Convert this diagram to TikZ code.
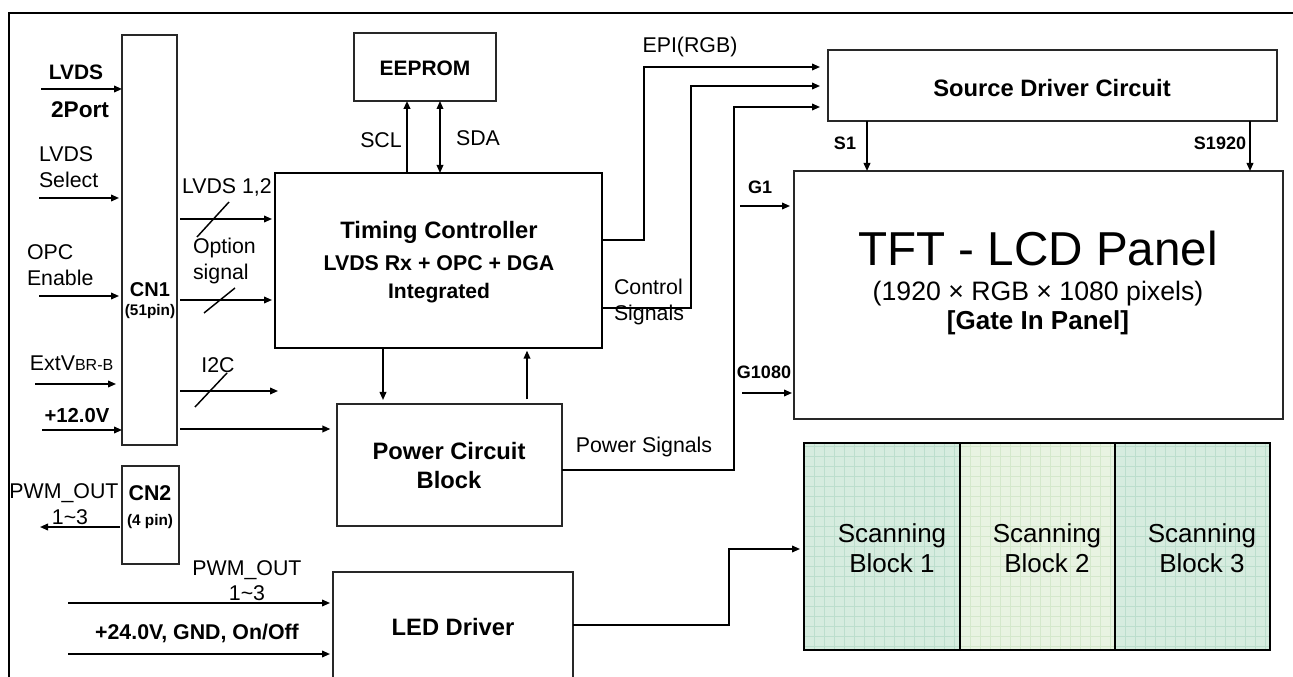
\documentclass[tikz,border=0pt]{standalone}
\usepackage{fontspec}
\setmainfont{Liberation Sans}
\usetikzlibrary{arrows.meta,fit}
\definecolor{scanA}{RGB}{214,236,223}
\definecolor{scanAg}{RGB}{188,222,205}
\definecolor{scanB}{RGB}{232,243,226}
\definecolor{scanBg}{RGB}{212,232,204}
\definecolor{boxc}{RGB}{40,40,40}
\begin{document}
\begin{tikzpicture}[x=0.75pt,y=-0.75pt,
  every node/.style={inner sep=0pt,outer sep=0pt},
  box/.style={draw=boxc,line width=0.8pt,inner sep=0pt},
  tbox/.style={draw=black,line width=1.5pt,inner sep=0pt},
  lbl/.style={font=\fontsize{16}{19.5}\selectfont,align=center},
  lbll/.style={font=\fontsize{16}{19.5}\selectfont,align=left,anchor=west},
  blbl/.style={font=\bfseries\fontsize{15.7}{19}\selectfont,align=center},
  sblbl/.style={font=\bfseries\fontsize{13.5}{16}\selectfont},
  ttl/.style={font=\bfseries\fontsize{17.8}{21.75}\selectfont,align=center},
  tip/.style={-{Triangle[length=6pt,width=5pt]}},
  arr/.style={line width=1.2pt,tip},
  ln/.style={line width=1.2pt},
  slash/.style={line width=1.1pt},
  scan/.style={draw=black,line width=1.2pt,inner sep=0pt},
  gridA/.style={path picture={\draw[scanAg,line width=0.5pt,step=7.5pt] (path picture bounding box.south west) grid (path picture bounding box.north east);}},
  gridB/.style={path picture={\draw[scanBg,line width=0.5pt,step=7.5pt] (path picture bounding box.south west) grid (path picture bounding box.north east);}}
]
\clip (0,0) rectangle (1293,677);
\useasboundingbox (0,0) rectangle (1293,677);
\fill[white] (0,0) rectangle (1293,677);

% frame
\draw[line width=1.5pt] (9,680) -- (9,13) -- (1295,13);

% boxes
\node[box,fit={(122,35) (177,445)}] (cn1) {};
\node[box,fit={(122,466) (179,564)}] (cn2) {};
\node[tbox,fit={(275,173) (602,348)}] (tc) {};
\node[box,fit={(354,33) (496,101)}] (ee) {};
\node[box,fit={(828,50) (1277,121)}] (sd) {};
\node[box,fit={(794,171) (1283,419)}] (tft) {};
\node[box,fit={(337,404) (562,526)}] (pcb) {};
\node[box,fit={(333,572) (573,700)}] (led) {};
\node[scan,fill=scanA,gridA,fit={(804,443) (960,650)}] (s1) {};
\node[scan,fill=scanB,gridB,fit={(960,443) (1115,650)}] (s2) {};
\node[scan,fill=scanA,gridA,fit={(1115,443) (1270,650)}] (s3) {};

% box texts
\node[font=\bfseries\fontsize{15}{18}\selectfont] (cn1t) at (150,290) {CN1};
\node[font=\bfseries\fontsize{11.5}{14}\selectfont] (cn1p) at (150,312) {(51pin)};
\node[font=\bfseries\fontsize{16}{18}\selectfont] (cn2t) at (150,493) {CN2};
\node[font=\bfseries\fontsize{11.5}{14}\selectfont] (cn2p) at (150,522) {(4 pin)};
\node[ttl] (tc1) at (439,232) {Timing Controller};
\node[font=\bfseries\fontsize{16}{19}\selectfont] (tc2) at (439,263) {LVDS Rx + OPC + DGA};
\node[font=\bfseries\fontsize{15.8}{19}\selectfont] (tc3) at (439,293) {Integrated};
\node[blbl] (eet) at (425,68) {EEPROM};
\node[ttl] (sdt) at (1052,88) {Source Driver Circuit};
\node[font=\fontsize{35.7}{40}\selectfont] (tft1) at (1038,248) {TFT - LCD Panel};
\node[font=\fontsize{20}{24}\selectfont] (tft2) at (1038,294) {(1920 × RGB × 1080 pixels)};
\node[font=\bfseries\fontsize{19.5}{24}\selectfont] (tft3) at (1038,323) {[Gate In Panel]};
\node[ttl] (pcbt) at (449,466) {Power Circuit\\Block};
\node[ttl] (ledt) at (453,627) {LED Driver};
\node[font=\fontsize{19.5}{22.5}\selectfont,align=center] (s1t) at (892,548) {Scanning\\Block 1};
\node[font=\fontsize{19.5}{22.5}\selectfont,align=center] (s2t) at (1047,548) {Scanning\\Block 2};
\node[font=\fontsize{19.5}{22.5}\selectfont,align=center] (s3t) at (1202,548) {Scanning\\Block 3};

% left input labels
\node[blbl] (lA) at (76,72) {LVDS};
\node[font=\bfseries\fontsize{17}{20}\selectfont] (lA2) at (80,110) {2Port};
\node[lbll] (lB) at (39,167) {LVDS\\Select};
\node[lbll] (lC) at (27,265) {OPC\\Enable};
\node[lbll] (lD) at (30,363) {ExtV{\fontsize{12}{14}\selectfont BR-B}};
\node[font=\bfseries\fontsize{15.2}{18}\selectfont] (lE) at (77,416) {+12.0V};

% left input arrows
\coordinate (iA) at (41,89);
\coordinate (iB) at (39,198);
\coordinate (iC) at (39,296);
\coordinate (iD) at (35,384);
\coordinate (iE) at (42,430);
\draw[arr] (iA) -- (cn1.west |- iA);
\draw[arr,shorten >=2.25pt] (iB) -- (cn1.west |- iB);
\draw[arr,shorten >=2.25pt] (iC) -- (cn1.west |- iC);
\draw[arr,shorten >=4.5pt] (iD) -- (cn1.west |- iD);
\draw[arr] (iE) -- (cn1.west |- iE);

% CN1 outputs
\node[lbll] (oA) at (182,187) {LVDS 1,2};
\node[lbll] (oB) at (193,261) {Option\\signal};
\node[lbl] (oC) at (218,365) {I2C};
\draw[arr,shorten <=2.25pt,shorten >=2.25pt] (cn1.east |- 0,219) -- (tc.west |- 0,219);
\draw[arr,shorten <=2.25pt,shorten >=2.25pt] (cn1.east |- 0,300) -- (tc.west |- 0,300);
\coordinate (i2cend) at (278,391);
\draw[arr,shorten <=2.25pt] (cn1.east |- i2cend) -- (i2cend);
\draw[arr,shorten <=2.25pt,shorten >=5pt] (cn1.east |- 0,429) -- (pcb.west |- 0,429);
\draw[slash] (197,237) -- (229,202);
\draw[slash] (204,313) -- (235,288);
\draw[slash] (195,407) -- (227,373);

% EEPROM links
\draw[line width=1.6pt,tip] (tc.north -| 407,0) -- (ee.south -| 407,0);
\draw[line width=0.9pt,{Triangle[length=6pt,width=5pt]}-{Triangle[length=6pt,width=5pt]}] (ee.south -| 440,0) -- (tc.north -| 440,0);
\node[lbl] (scl) at (381,140) {SCL};
\node[lbl] (sda) at (478,138) {SDA};

% to source driver
\draw[arr,shorten >=6pt] (tc.east |- 0,240) -| (644,67) -- (sd.west |- 0,67);
\draw[arr,shorten >=6pt] (tc.east |- 0,308) -| (691,86) -- (sd.west |- 0,86);
\draw[arr,shorten >=6pt] (pcb.east |- 0,470) -| (734,107) -- (sd.west |- 0,107);
\node[lbl] (epi) at (690,47) {EPI(RGB)};
\node[lbll] (ctl) at (614,302) {Control\\Signals};
\node[lbl] (pws) at (644,447) {Power Signals};

% source to panel
\draw[arr] (sd.south -| 867,0) -- (tft.north -| 867,0);
\draw[arr] (sd.south -| 1250,0) -- (tft.north -| 1250,0);
\node[sblbl] (s1l) at (845,143) {S1};
\node[sblbl] (s1920l) at (1220,143) {S1920};

% gate
\coordinate (g1s) at (740,206);
\coordinate (g2s) at (742,393);
\draw[arr,shorten >=3pt] (g1s) -- (tft.west |- g1s);
\draw[arr,shorten >=1.5pt] (g2s) -- (tft.west |- g2s);
\node[sblbl] (g1l) at (760,187) {G1};
\node[sblbl] (g2l) at (764,372) {G1080};

% TC <-> power
\draw[arr,shorten >=3pt] (tc.south -| 383,0) -- (pcb.north -| 383,0);
\draw[arr,shorten <=3.5pt,shorten >=2pt] (pcb.north -| 527,0) -- (tc.south -| 527,0);

% CN2 output
\coordinate (pwmend) at (40,527);
\draw[arr,shorten <=1.5pt] (cn2.west |- pwmend) -- (pwmend);
\node[lbl] (pwm1) at (64,493) {PWM\_OUT};
\node[lbl] (pwm1b) at (70,517) {1\textasciitilde3};

% LED driver
\coordinate (ledA) at (68,603);
\coordinate (ledB) at (68,654);
\draw[arr,shorten >=2.25pt] (ledA) -- (led.west |- ledA);
\draw[arr,shorten >=2.25pt] (ledB) -- (led.west |- ledB);
\node[lbl] (pwm2) at (247,570) {PWM\_OUT};
\node[lbl] (pwm2b) at (247,593) {1\textasciitilde3};
\node[blbl,font=\bfseries\fontsize{16}{19}\selectfont] (pwr24) at (197,633) {+24.0V, GND, On/Off};
\draw[arr,shorten >=3pt] (led.east |- 0,625) -| (729,549) -- (s1.west |- 0,549);
\end{tikzpicture}
\end{document}
